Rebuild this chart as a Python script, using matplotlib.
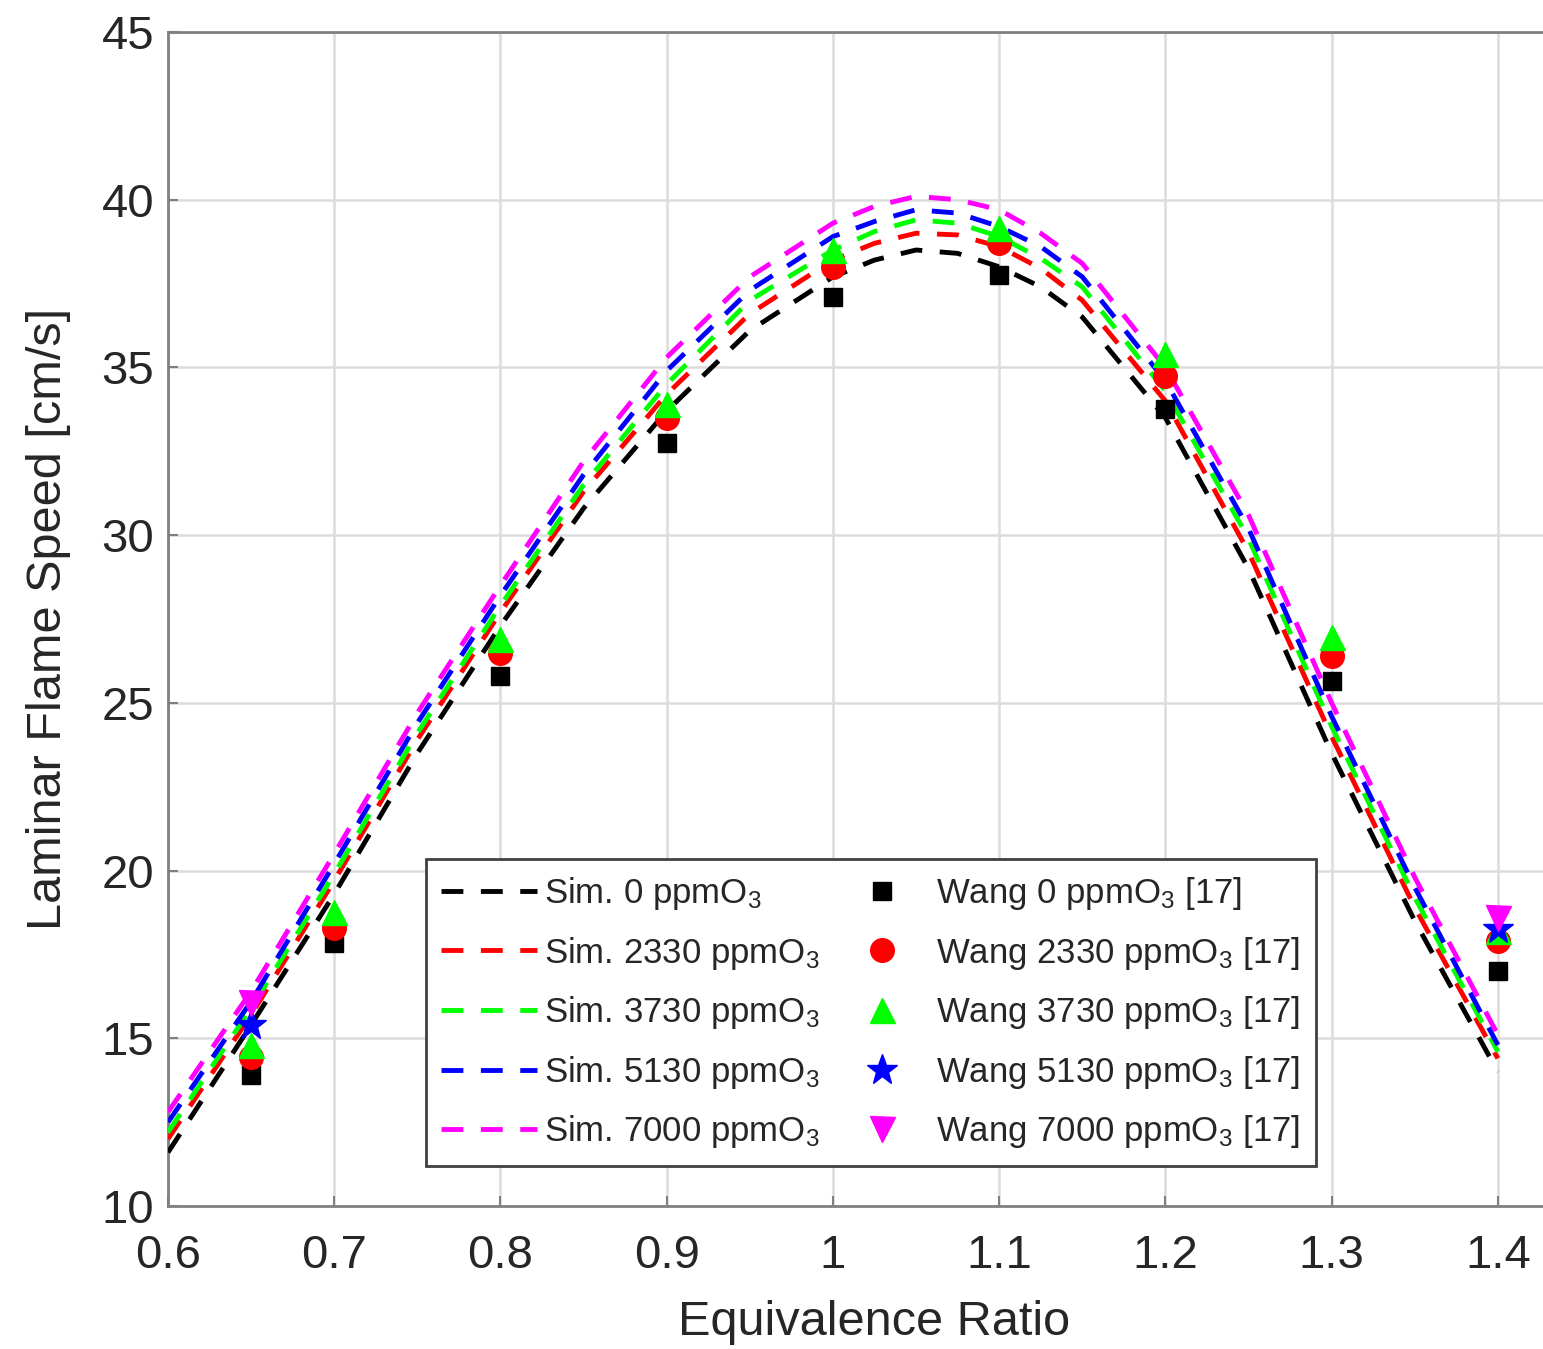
import matplotlib
matplotlib.use("Agg")
import matplotlib.pyplot as plt

plt.rcParams['font.family'] = ['Liberation Sans', 'DejaVu Sans']
plt.rcParams['mathtext.fontset'] = 'custom'
plt.rcParams['mathtext.rm'] = 'Liberation Sans'
plt.rcParams['mathtext.it'] = 'Liberation Sans:italic'

# simulation curves (equivalence ratio vs laminar flame speed, cm/s)
phi_sim = [0.6, 0.65, 0.7, 0.75, 0.8, 0.85, 0.9, 0.95, 1.0, 1.025, 1.05,
           1.075, 1.1, 1.125, 1.15, 1.2, 1.25, 1.3, 1.35, 1.4]
sim_0 = [11.6, 15.4, 19.3, 23.5, 27.3, 30.8, 33.7, 36.1, 37.7, 38.2, 38.5,
         38.4, 38.0, 37.4, 36.5, 33.5, 29.0, 23.5, 18.5, 14.0]
sim_2330 = [12.0, 15.7, 19.7, 23.9, 27.7, 31.3, 34.2, 36.6, 38.2, 38.7, 39.0,
            38.95, 38.6, 37.95, 37.0, 34.0, 29.5, 24.0, 18.9, 14.4]
sim_3730 = [12.2, 15.9, 19.9, 24.1, 27.9, 31.5, 34.5, 37.0, 38.5, 39.05, 39.4,
            39.3, 38.9, 38.25, 37.4, 34.3, 29.9, 24.3, 19.2, 14.6]
sim_5130 = [12.5, 16.1, 20.2, 24.4, 28.2, 31.8, 34.9, 37.3, 38.9, 39.35, 39.7,
            39.6, 39.2, 38.6, 37.7, 34.6, 30.2, 24.6, 19.5, 14.8]
sim_7000 = [12.8, 16.4, 20.5, 24.7, 28.5, 32.2, 35.3, 37.7, 39.3, 39.8, 40.1,
            40.0, 39.7, 39.0, 38.1, 35.0, 30.6, 25.0, 19.8, 15.1]

# Wang [17] measurements
phi_exp = [0.65, 0.7, 0.8, 0.9, 1.0, 1.1, 1.2, 1.3, 1.4]
wang_0 = [13.9, 17.85, 25.8, 32.75, 37.1, 37.75, 33.75, 25.65, 17.0]
wang_2330 = [14.45, 18.3, 26.5, 33.5, 38.0, 38.7, 34.75, 26.4, 17.9]
wang_3730 = [14.8, 18.75, 26.9, 33.9, 38.5, 39.15, 35.4, 26.95, 18.2]
phi_exp2 = [0.65, 1.4]
wang_5130 = [15.4, 18.25]
wang_7000 = [16.05, 18.6]

sim_labels = ['Sim. 0 ppmO$_3$', 'Sim. 2330 ppmO$_3$', 'Sim. 3730 ppmO$_3$',
              'Sim. 5130 ppmO$_3$', 'Sim. 7000 ppmO$_3$']
exp_labels = ['Wang 0 ppmO$_3$ [17]', 'Wang 2330 ppmO$_3$ [17]', 'Wang 3730 ppmO$_3$ [17]',
              'Wang 5130 ppmO$_3$ [17]', 'Wang 7000 ppmO$_3$ [17]']
colors = ['k', 'r', '#00ff00', 'b', '#ff00ff']

fig = plt.figure(figsize=(15.43, 13.49), dpi=100)
ax = fig.add_axes([0.1089, 0.106, 0.9157, 0.8703])

dash = (0, (4.5, 3.6))
sims = [sim_0, sim_2330, sim_3730, sim_5130, sim_7000]
handles = []
for ys, c, lab in zip(sims, colors, sim_labels):
    h, = ax.plot(phi_sim, ys, color=c, lw=3.5, linestyle=dash, label=lab, zorder=3)
    handles.append(h)

handles.append(ax.plot(phi_exp, wang_0, 's', color='k', ms=13, label=exp_labels[0], zorder=4)[0])
handles.append(ax.plot(phi_exp, wang_2330, 'o', color='r', ms=17, label=exp_labels[1], zorder=4)[0])
handles.append(ax.plot(phi_exp, wang_3730, '^', color='#00ff00', ms=18, label=exp_labels[2], zorder=4)[0])
handles.append(ax.plot(phi_exp2, wang_5130, '*', color='b', ms=23, label=exp_labels[3], zorder=4)[0])
handles.append(ax.plot(phi_exp2, wang_7000, 'v', color='#ff00ff', ms=18, label=exp_labels[4], zorder=4)[0])

ax.set_xlim(0.6, 1.45)
ax.set_ylim(10, 45)
ax.set_xticks([0.6, 0.7, 0.8, 0.9, 1.0, 1.1, 1.2, 1.3, 1.4])
ax.set_xticklabels(['0.6', '0.7', '0.8', '0.9', '1', '1.1', '1.2', '1.3', '1.4'])
ax.set_yticks([10, 15, 20, 25, 30, 35, 40, 45])
ax.grid(True, color='#dcdcdc', lw=1.8)
ax.set_axisbelow(True)
for s in ax.spines.values():
    s.set_color('#808080')
    s.set_linewidth(2)
ax.tick_params(direction='in', length=7, width=1.5, color='#808080',
               labelsize=34, labelcolor='#262626')
ax.tick_params(axis='x', pad=20)
ax.tick_params(axis='y', pad=10)

ax.set_xlabel('Equivalence Ratio', fontsize=35, color='#262626', labelpad=16)
ax.set_ylabel('Laminar Flame Speed [cm/s]', fontsize=35, color='#262626', labelpad=22)

leg = fig.legend(handles=handles, ncol=2, loc='lower left',
                 bbox_to_anchor=(0.276, 0.1357, 0.5768, 0.2298),
                 mode='expand', borderaxespad=0, fontsize=25, numpoints=1,
                 handlelength=2.75, handletextpad=0.2, labelspacing=0.65,
                 borderpad=0.45, columnspacing=1.0, fancybox=False, framealpha=1)
leg.get_frame().set_edgecolor('#404040')
leg.get_frame().set_linewidth(2)
for t in leg.get_texts():
    t.set_color('#262626')

fig.savefig('out.png', dpi=100)
